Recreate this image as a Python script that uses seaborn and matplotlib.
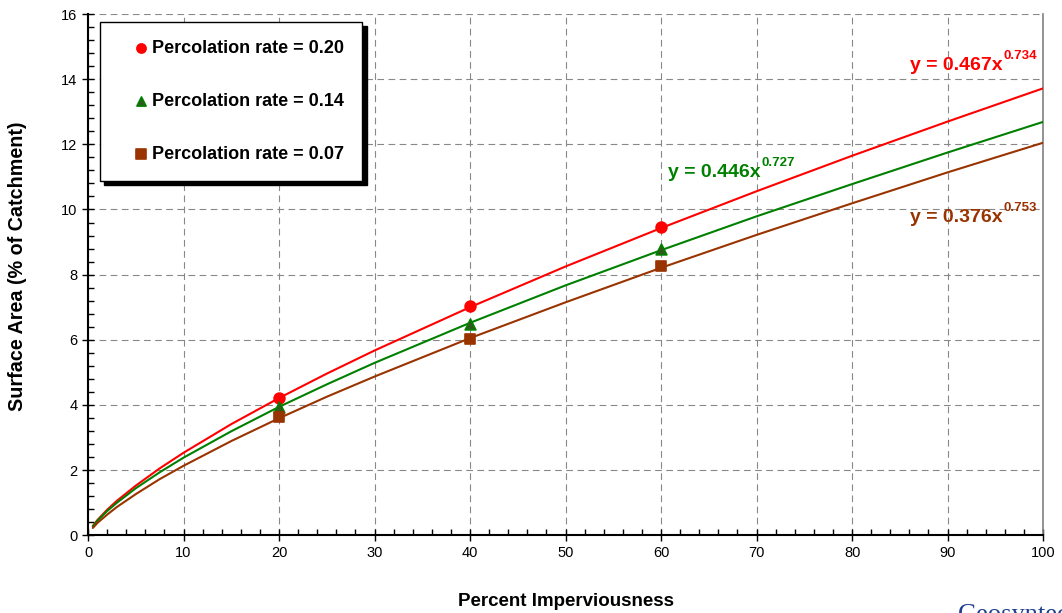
import pandas as pd
import matplotlib.pyplot as plt
import seaborn as sns
from matplotlib.ticker import MultipleLocator

# curve values (trend lines), x in percent imperviousness
x_curve = [0.5, 1, 2, 3, 5, 7.5, 10, 15, 20, 25, 30, 40, 50, 60, 70, 80, 90, 100]
red_curve = [0.28, 0.47, 0.78, 1.05, 1.52, 2.05, 2.53, 3.41, 4.21, 4.96, 5.67, 7.00, 8.25, 9.43, 10.56, 11.65, 12.70, 13.72]
green_curve = [0.27, 0.45, 0.74, 0.99, 1.44, 1.93, 2.38, 3.19, 3.94, 4.63, 5.29, 6.52, 7.67, 8.75, 9.79, 10.78, 11.75, 12.69]
brown_curve = [0.22, 0.38, 0.63, 0.86, 1.26, 1.72, 2.13, 2.89, 3.59, 4.25, 4.87, 6.05, 7.15, 8.21, 9.22, 10.19, 11.14, 12.05]

# measured points
x_pts = [20, 40, 60]
red_pts = [4.21, 7.03, 9.45]
green_pts = [3.92, 6.47, 8.78]
brown_pts = [3.62, 6.02, 8.25]

labels = ['Percolation rate = 0.20', 'Percolation rate = 0.14', 'Percolation rate = 0.07']
equations = ['y = 0.467x', 'y = 0.446x', 'y = 0.376x']
exponents = ['0.734', '0.727', '0.753']

curve_df = pd.DataFrame({'x': x_curve * 3,
                         'y': red_curve + green_curve + brown_curve,
                         'rate': [labels[0]] * len(x_curve) + [labels[1]] * len(x_curve) + [labels[2]] * len(x_curve)})

sns.set_style('ticks')
plt.rcParams['font.family'] = ['Liberation Sans', 'DejaVu Sans']
plt.rcParams['text.color'] = 'black'
plt.rcParams['axes.labelcolor'] = 'black'
plt.rcParams['xtick.color'] = 'black'
plt.rcParams['ytick.color'] = 'black'

colors = ['#FF0000', '#008000', '#993300']
fig = plt.figure(figsize=(10.62, 6.13), dpi=100)
ax = fig.add_axes([0.0829, 0.127, 0.8993, 0.850])

sns.lineplot(data=curve_df, x='x', y='y', hue='rate', palette=colors, linewidth=1.5, legend=False, ax=ax, zorder=3)

pt_sets = [red_pts, green_pts, brown_pts]
markers = ['o', '^', 's']
faces = ['#FF0000', '#2F5A1C', '#993300']
edges = ['#FF0000', '#008000', '#993300']
for ys, m, fc, ec, lab in zip(pt_sets, markers, faces, edges, labels):
    sns.scatterplot(x=x_pts, y=ys, marker=m, color=fc, edgecolor=ec, linewidth=1.2, s=60, label=lab, ax=ax, zorder=4)

ax.set_xlim(0, 100)
ax.set_ylim(0, 16)
ax.xaxis.set_major_locator(MultipleLocator(10))
ax.xaxis.set_minor_locator(MultipleLocator(2))
ax.yaxis.set_major_locator(MultipleLocator(2))
ax.yaxis.set_minor_locator(MultipleLocator(0.4))
ax.grid(True, which='major', color='#888888', linestyle=(0, (6, 4)), linewidth=0.8)
ax.tick_params(axis='both', which='major', labelsize=10.5, length=8, width=1, direction='inout')
ax.tick_params(axis='both', which='minor', length=4, width=1, direction='in')

for side in ['left', 'bottom']:
    ax.spines[side].set_color('black')
    ax.spines[side].set_linewidth(1.5)
ax.spines['top'].set_visible(False)
ax.spines['right'].set_color('#808080')
ax.spines['right'].set_linewidth(1.2)

ax.set_xlabel('Percent Imperviousness', fontsize=13.5, fontweight='bold', labelpad=24)
ax.set_ylabel('Surface Area (% of Catchment)', fontsize=14.2, fontweight='bold')
ax.yaxis.set_label_coords(-0.064, 0.517)

leg = ax.legend(loc='upper left', bbox_to_anchor=(0.0126, 0.985), frameon=True, fancybox=False,
                edgecolor='black', framealpha=1, prop={'size': 13, 'weight': 'bold'},
                labelspacing=2.0, borderpad=1.0, handletextpad=-0.65, handlelength=2.55, markerscale=0.85,
                borderaxespad=0, shadow={'color': 'black', 'alpha': 1, 'ox': 3, 'oy': -3})
leg.get_frame().set_linewidth(1.0)

# fitted equations
eq_pos = [(86.1, 14.28), (60.7, 10.99), (86.1, 9.61)]
for (ex, ey), eq, pw, c in zip(eq_pos, equations, exponents, colors):
    t = ax.text(ex, ey, eq, color=c, fontsize=14, fontweight='bold', va='baseline', ha='left', zorder=5)
    ax.annotate(pw, xy=(1, 1), xycoords=t, xytext=(0.5, 5), textcoords='offset points',
                color=c, fontsize=9.5, fontweight='bold', va='top', ha='left', zorder=5)

fig.text(0.902, 0.015, 'Geosyntec', color='#1F3F8F', fontsize=19, family='Liberation Serif', va='top', ha='left')

fig.savefig('out.png', dpi=100, facecolor='white')
